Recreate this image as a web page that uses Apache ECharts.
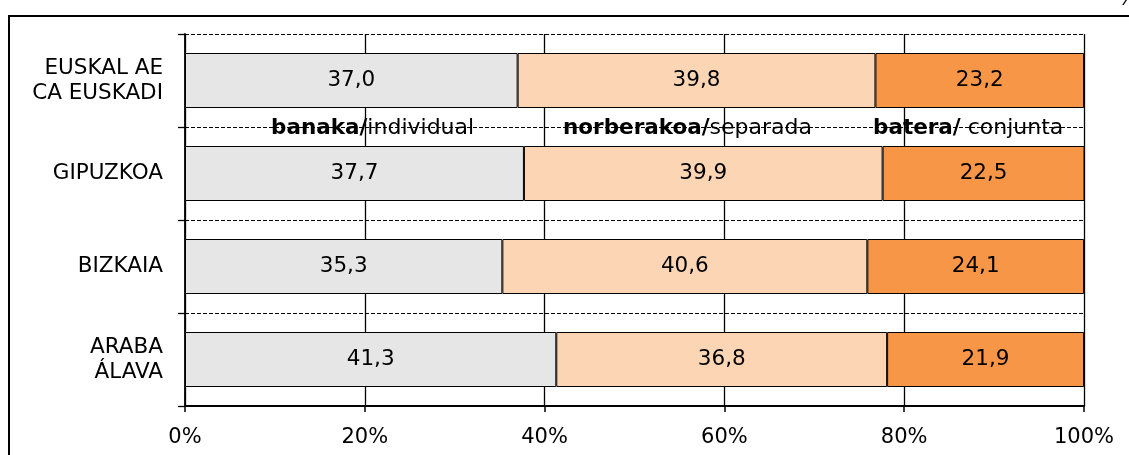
<!DOCTYPE html>
<html>
<head>
<meta charset="utf-8">
<script src="https://cdn.jsdelivr.net/npm/echarts@6/dist/echarts.min.js"></script>
<style>
    html, body { margin: 0; padding: 0; background: #fff; }
    #main { width: 1129px; height: 455px; }
</style>
</head>
<body>
<div id="main"></div>
<script>
// datos
const categories = ['EUSKAL AE\nCA EUSKADI', 'GIPUZKOA', 'BIZKAIA', 'ARABA\nÁLAVA']
const seriesNames = ['banaka/individual', 'norberakoa/separada', 'batera/ conjunta']
const banaka = [37.0, 37.7, 35.3, 41.3]
const norberakoa = [39.8, 39.9, 40.6, 36.8]
const batera = [23.2, 22.5, 24.1, 21.9]
const xTicks = [0, 20, 40, 60, 80, 100]

const FONT = '"DejaVu Sans", Verdana, sans-serif'
const colors = ['#E6E6E6', '#FCD5B4', '#F79646']
const legendLeft = [265, 557, 867]

let mychart = echarts.init(document.getElementById('main'))

const makeSeries = (name, data, i) => ({
    name: name,
    type: 'bar',
    stack: 'total',
    barWidth: 55,
    data: data,
    itemStyle: { color: colors[i], borderColor: '#000', borderWidth: 1 },
    label: {
        show: true,
        position: 'inside',
        color: '#000',
        fontSize: 21.5,
        fontFamily: FONT,
        formatter: p => p.value.toFixed(1).replace('.', ',')
    }
})

var option = {
    animation: false,
    textStyle: { fontFamily: FONT },
    grid: { left: 185, right: 45, top: 34, bottom: 49 },
    legend: seriesNames.map((n, i) => ({
        data: [n],
        left: legendLeft[i],
        top: 117,
        padding: 0,
        itemWidth: 0,
        itemHeight: 0,
        selectedMode: false,
        formatter: name => {
            const k = name.indexOf('/')
            return '{b|' + name.slice(0, k + 1) + '}' + name.slice(k + 1)
        },
        textStyle: {
            color: '#000',
            fontSize: 22,
            fontFamily: FONT,
            rich: { b: { fontWeight: 'bold', fontSize: 21.5, fontFamily: FONT, color: '#000' } }
        }
    })),
    xAxis: {
        type: 'value',
        min: xTicks[0],
        max: xTicks[xTicks.length - 1],
        interval: xTicks[1] - xTicks[0],
        axisLine: { show: true, lineStyle: { color: '#000', width: 1.8 } },
        axisTick: { show: true, length: 6, lineStyle: { color: '#000', width: 1.5 } },
        splitLine: { show: true, lineStyle: { color: '#000', width: 1.3 } },
        axisLabel: { color: '#000', fontSize: 21, fontFamily: FONT, margin: 21, formatter: '{value}%' }
    },
    yAxis: {
        type: 'category',
        inverse: true,
        data: categories,
        axisLine: { show: true, lineStyle: { color: '#000', width: 1.8 } },
        axisTick: { show: true, length: 7, lineStyle: { color: '#000', width: 1.3 } },
        splitLine: { show: true, lineStyle: { color: '#000', width: 1, type: [4, 2] } },
        axisLabel: { color: '#000', fontSize: 21.5, fontFamily: FONT, margin: 22, lineHeight: 25, align: 'right' }
    },
    graphic: [
        {
            type: 'rect',
            shape: { x: 9, y: 16, width: 1300, height: 700 },
            style: { fill: 'none', stroke: '#000', lineWidth: 2 },
            silent: true,
            z: -10
        },
        {
            type: 'text',
            left: 1118,
            top: -10,
            style: { text: '%', fontSize: 20, fontFamily: FONT, fill: '#000' },
            silent: true
        }
    ],
    series: [
        makeSeries(seriesNames[0], banaka, 0),
        makeSeries(seriesNames[1], norberakoa, 1),
        makeSeries(seriesNames[2], batera, 2)
    ]
}

mychart.setOption(option)

window.addEventListener('resize', () => {
    mychart.resize()
})
</script>
</body>
</html>
